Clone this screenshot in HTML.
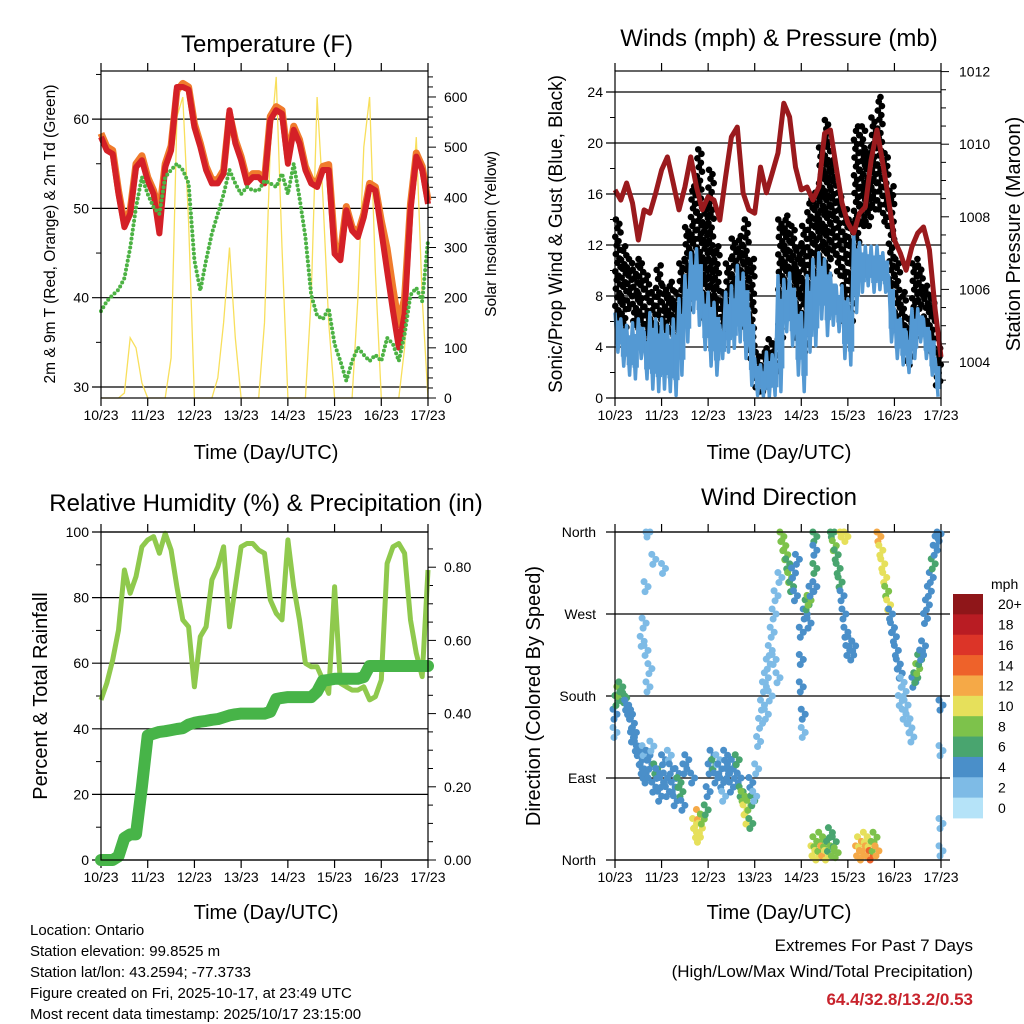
<!DOCTYPE html>
<html><head><meta charset="utf-8"><style>
html,body{margin:0;padding:0;background:#fff;}
svg{display:block;font-family:"Liberation Sans",Arial,sans-serif;}
</style></head><body>
<svg id="c" width="1024" height="1024" viewBox="0 0 1024 1024" xmlns="http://www.w3.org/2000/svg">
<rect width="1024" height="1024" fill="#fff"/>
<g id="layer"></g>
<g fill="#000">
<text x="267" y="52" font-size="24" text-anchor="middle">Temperature (F)</text>
<text x="779" y="46" font-size="24" text-anchor="middle">Winds (mph) &amp; Pressure (mb)</text>
<text x="266" y="511" font-size="24" text-anchor="middle">Relative Humidity (%) &amp; Precipitation (in)</text>
<text x="779" y="505" font-size="24" text-anchor="middle">Wind Direction</text>
<text x="266" y="459" font-size="20" text-anchor="middle">Time (Day/UTC)</text>
<text x="779" y="459" font-size="20" text-anchor="middle">Time (Day/UTC)</text>
<text x="266" y="919" font-size="20" text-anchor="middle">Time (Day/UTC)</text>
<text x="779" y="919" font-size="20" text-anchor="middle">Time (Day/UTC)</text>
<text transform="translate(55,234) rotate(-90)" font-size="15.5" text-anchor="middle">2m &amp; 9m T (Red, Orange) &amp; 2m Td (Green)</text>
<text transform="translate(496,234) rotate(-90)" font-size="15.5" text-anchor="middle">Solar Insolation (Yellow)</text>
<text transform="translate(562,234) rotate(-90)" font-size="19" text-anchor="middle">Sonic/Prop Wind &amp; Gust (Blue, Black)</text>
<text transform="translate(1020,234) rotate(-90)" font-size="20" text-anchor="middle">Station Pressure (Maroon)</text>
<text transform="translate(47,696) rotate(-90)" font-size="20" text-anchor="middle">Percent &amp; Total Rainfall</text>
<text transform="translate(540,696) rotate(-90)" font-size="20" text-anchor="middle">Direction (Colored By Speed)</text>
</g>
<g font-size="15" fill="#000">
<text x="30" y="935">Location: Ontario</text>
<text x="30" y="956">Station elevation: 99.8525 m</text>
<text x="30" y="977">Station lat/lon: 43.2594; -77.3733</text>
<text x="30" y="998">Figure created on Fri, 2025-10-17, at 23:49 UTC</text>
<text x="30" y="1019">Most recent data timestamp: 2025/10/17 23:15:00</text>
<text x="973" y="951" font-size="17" text-anchor="end">Extremes For Past 7 Days</text>
<text x="973" y="977" font-size="17" text-anchor="end">(High/Low/Max Wind/Total Precipitation)</text>
<text x="973" y="1005" font-size="17" font-weight="bold" fill="#c8232c" text-anchor="end">64.4/32.8/13.2/0.53</text>
</g>
</svg>
<script>
// ---- data (3-hourly, t = 0..168 h from 10/23 UTC) ----
const dayLabels = ["10/23","11/23","12/23","13/23","14/23","15/23","16/23","17/23"];
const temp2m = [58.0,56.5,56.1,51.6,47.9,49.4,54.6,55.4,53.1,51.6,47.2,54.6,56.5,63.6,63.6,63.3,59.1,56.9,54.3,52.8,52.8,53.9,61.0,57.3,55.4,52.8,53.5,53.5,52.8,59.9,61.0,60.6,55.0,58.8,57.3,54.3,52.8,52.4,54.3,54.3,44.9,44.2,49.8,47.5,46.8,49.0,52.4,52.0,47.5,43.0,38.5,34.4,38.2,49.8,55.8,54.3,50.5];
const temp9m = [58.4,56.9,56.5,52.0,48.3,49.8,55.0,55.9,53.5,52.0,49.5,55.0,57.0,63.2,64.0,63.6,59.5,57.3,54.7,53.2,53.2,54.3,60.6,57.7,55.8,53.2,53.9,53.9,53.2,60.3,61.4,61.0,55.6,59.2,57.7,54.7,53.2,52.8,54.7,54.9,46.0,45.0,50.2,47.9,47.2,49.4,52.8,52.4,48.6,45.5,41.0,37.0,40.0,50.5,56.2,54.7,50.9];
const dewpt = [38.5,39.6,40.3,40.9,42.2,45.6,50.1,53.5,51.6,50.1,49.4,53.5,54.3,55.0,54.3,52.8,44.2,40.8,44.2,47.2,49.4,51.6,54.3,52.8,51.6,52.4,52.0,52.0,53.1,52.8,52.4,53.9,51.6,55.0,51.2,46.8,40.3,38.0,37.6,38.8,34.8,32.9,30.7,32.9,34.4,33.6,32.9,33.6,32.9,35.5,34.8,32.9,35.9,40.3,41.1,39.6,46.4];
const solar = [0,0,0,0,10,120,100,30,0,0,0,0,80,560,600,350,0,0,0,0,40,150,300,120,0,0,0,0,150,500,640,300,0,0,0,0,200,600,400,150,0,0,0,0,200,500,600,250,0,0,0,0,100,350,520,200,0];
const pressure = [1008.74,1008.46,1008.93,1008.38,1007.36,1008.19,1008.1,1008.66,1009.29,1009.65,1008.93,1008.19,1008.82,1009.65,1008.82,1008.19,1008.55,1008.46,1007.91,1009.1,1010.2,1010.47,1008.66,1008.19,1008.1,1009.37,1008.66,1009.2,1009.76,1011.13,1010.75,1009.37,1008.74,1008.82,1008.46,1008.82,1010.3,1010.39,1009.37,1008.38,1007.83,1007.55,1008.1,1008.27,1009.56,1010.39,1009.48,1008.46,1007.36,1007.0,1006.53,1007.17,1007.55,1007.72,1007.09,1005.43,1004.14];
// wind per 3-hour bin (56 bins): sonic min/max, gust min/max (mph)
const windLo = [3.6,2.5,1.8,1.5,3.1,1.5,0.7,0.5,0.7,0.5,0.2,1.8,4.4,6.7,5.7,3.8,2.5,1.8,3.1,3.6,3.9,4.4,3.1,1.0,0.2,0.1,0.1,0.2,0.5,5.2,4.1,1.8,0.5,3.6,4.1,6.2,4.9,5.7,5.2,3.1,2.6,6.7,8.3,8.8,8.3,8.5,8.3,4.4,3.1,2.6,2.0,3.1,4.4,3.1,1.8,0.1];
const windHi = [6.7,6.2,5.7,5.9,6.2,5.2,6.7,6.2,6.2,5.7,6.2,7.8,9.6,11.4,11.7,8.3,8.3,7.5,5.7,8.3,8.8,10.4,9.8,7.0,3.1,2.6,3.6,3.4,9.6,9.3,9.8,7.8,6.7,9.6,10.9,11.4,10.9,9.8,8.8,8.8,7.8,13.0,12.2,11.9,11.9,11.9,11.4,9.6,7.0,6.2,5.2,7.0,7.0,6.2,5.2,3.1];
const gustLo = [6.2,5.2,7.0,5.7,4.4,4.4,4.1,4.4,4.9,5.2,4.9,5.7,7.0,10.4,8.3,6.2,5.7,4.9,4.4,4.9,6.2,7.0,5.2,3.1,0.5,0.5,1.8,2.1,4.4,8.3,7.8,4.4,3.6,7.0,8.3,9.8,9.6,10.9,9.6,5.7,5.7,9.8,13.5,13.5,14.8,14.8,13.5,8.3,5.7,4.4,2.6,4.4,7.0,5.7,3.6,1.0];
const gustHi = [14.0,11.9,10.9,10.4,10.9,9.6,8.3,10.4,8.8,9.1,8.3,10.9,13.4,16.6,19.5,15.5,17.9,11.9,8.3,10.9,12.5,12.7,14.0,10.9,3.6,3.6,4.6,4.6,14.0,14.3,13.5,11.9,13.5,15.6,16.1,20.0,21.8,18.7,16.1,14.8,14.0,21.3,21.3,19.7,22.0,23.6,19.2,16.6,10.9,8.3,6.2,10.9,10.4,8.8,7.8,3.9];
const rh = [48.8,53.9,61.0,70.1,88.4,81.3,86.4,95.5,97.6,98.6,93.5,99.6,94.5,83.3,73.2,71.1,52.8,68.1,71.1,85.4,89.4,95.5,71.1,83.3,95.5,96.5,96.5,94.5,93.5,79.3,75.2,73.2,97.6,83.3,73.2,60.0,58.9,58.9,54.9,50.8,83.3,53.9,52.8,51.8,51.8,52.8,48.8,49.8,54.9,90.4,95.5,96.5,93.5,73.2,63.0,55.9,88.4];
const precip = [0,0,0,0.01,0.06,0.07,0.07,0.2,0.34,0.345,0.35,0.352,0.355,0.358,0.36,0.37,0.375,0.378,0.38,0.383,0.385,0.39,0.395,0.398,0.40,0.40,0.40,0.40,0.40,0.405,0.44,0.443,0.445,0.445,0.445,0.445,0.445,0.46,0.49,0.492,0.495,0.495,0.495,0.495,0.495,0.50,0.53,0.53,0.53,0.53,0.53,0.53,0.53,0.53,0.53,0.53,0.53];
// wind direction observations: hour, degrees, speed (mph)
const dirHour = [0,0,1,2,3,4,5,6,7,8,9,9,10,11,12,13,14,15,15,14,15,16,17,18,16,20,17,25,16,17,18,19,20,21,22,23,24,25,26,27,28,29,30,31,32,33,34,35,36,37,41,42,43,44,45,43,40,47,48,49,50,51,52,53,54,55,56,57,58,59,60,61,62,63,64,65,66,67,68,69,70,70,71,72,73,74,75,76,77,78,79,80,81,82,83,84,85,78,80,82,86,87,88,89,90,91,92,93,94,96,96,96,97,97,98,99,100,101,100,103,103,103,103,102,103,104,105,106,107,108,109,110,111,112,113,114,112,113,114,115,116,117,118,119,117,119,120,121,122,123,125,126,127,128,129,130,131,132,133,134,135,136,137,138,139,140,141,142,143,144,145,146,147,148,149,150,151,152,153,149,147,154,155,156,157,158,159,160,161,162,163,164,165,166,167,168,168,168,168];
const dirDeg = [140,160,175,185,190,180,178,170,165,160,150,135,140,125,120,110,100,95,120,240,260,230,190,210,300,330,360,320,90,115,105,125,80,100,95,70,85,110,90,75,115,100,80,65,95,85,75,60,100,110,40,30,50,35,45,25,90,55,75,100,115,105,90,110,100,85,70,115,95,100,80,105,95,110,90,75,70,55,45,60,40,85,65,70,100,130,150,170,190,200,215,230,250,270,290,200,310,160,180,220,355,345,335,325,310,300,315,290,330,250,220,190,160,140,270,280,285,295,260,355,340,320,300,10,20,5,15,25,10,20,5,15,30,10,20,8,360,345,335,320,305,290,270,250,360,355,230,240,225,235,10,20,5,15,25,10,20,5,15,25,10,355,340,325,310,295,280,270,255,245,230,215,205,195,185,170,155,145,135,160,175,195,200,210,220,225,235,265,280,295,310,325,340,350,358,170,120,40,10];
const dirSpd = [2,3,5,7,6,6,5,4,4,3,4,3,4,3,4,4,3,4,2,1,1,1,2,1,1,1,1,1,4,3,4,2,4,5,4,3,4,3,4,4,2,3,4,3,4,6,6,4,4,3,9,10,11,10,8,9,3,5,4,4,4,6,3,2,4,3,2,3,4,4,4,3,4,6,3,5,7,9,10,8,6,4,6,2,2,2,1,2,1,2,2,1,2,1,1,2,1,1,2,2,7,8,7,6,8,6,4,4,3,3,4,3,3,2,4,6,7,4,4,6,4,6,4,9,8,10,7,8,11,7,9,6,5,8,6,7,6,7,6,6,5,4,3,4,10,9,3,4,4,3,12,10,11,12,10,11,9,13,8,7,12,11,10,10,9,8,10,4,4,4,4,3,3,2,2,2,1,2,1,2,2,3,6,7,6,4,4,3,4,4,4,5,4,4,3,3,1,1,1,1];
const spdTicks = ["0","2","4","6","8","10","12","14","16","18","20+"];
const spdColors = ["#b5e3f8","#7ebbe6","#4a8fc9","#49a56f","#7dc24b","#e6e05b","#f5a947","#ee622a","#dc3428","#b91c23","#8f1619"];

// ---- rendering ----
const NS="http://www.w3.org/2000/svg";
const root=document.getElementById('layer');
function mk(tag,attrs,parent){const e=document.createElementNS(NS,tag);for(const k in attrs)e.setAttribute(k,attrs[k]);(parent||root).appendChild(e);return e;}
function txt(x,y,s,size,anchor,parent){const e=mk('text',{x:x,y:y,'font-size':size,'text-anchor':anchor||'start',fill:'#000'},parent);e.textContent=s;return e;}
const hours = precip.map((_,i)=>i*3);

function panel(name,x0,x1,yT,yB){
  const g=mk('g',{});
  
  
  const xs=t=>x0+t/168*(x1-x0);
  for(let d=0;d<=7;d++){
    const x=xs(d*24);
    mk('line',{x1:x,y1:yT-8,x2:x,y2:yT,stroke:'#000','stroke-width':1.2},g);
    mk('line',{x1:x,y1:yB,x2:x,y2:yB+8,stroke:'#000','stroke-width':1.2},g);
    const t=txt(x,yB+22,dayLabels[d],14,'middle',g);
    
    
  }
  return {g,xs};
}
function frame(g,x0,x1,yT,yB){mk('rect',{x:x0,y:yT,width:x1-x0,height:yB-yT,fill:'none',stroke:'#000','stroke-width':1.2},g);}
function path(pts){return pts.map((p,i)=>(i?'L':'M')+p[0].toFixed(1)+','+p[1].toFixed(1)).join('');}

// Panel 1: temperature
(function(){
  const x0=101,x1=428,yT=71,yB=398;
  const {g,xs}=panel('temperature-panel',x0,x1,yT,yB);
  const yt=v=>387-(v-30)*8.93, ys=v=>398-v*0.5017;
  [30,40,50,60].forEach(v=>{mk('line',{x1:x0-9,y1:yt(v),x2:x1,y2:yt(v),stroke:'#000','stroke-width':1.2},g);const t=txt(x0-12,yt(v)+5,String(v),14,'end',g);});
  [35,45,55,65].forEach(v=>mk('line',{x1:x0-5,y1:yt(v),x2:x0,y2:yt(v),stroke:'#000'},g));
  for(let v=0;v<=640;v+=20){const big=v%100===0;mk('line',{x1:x1,y1:ys(v),x2:x1+(big?8:5),y2:ys(v),stroke:'#000'},g);if(big){const t=txt(x1+16,ys(v)+5,String(v),14,'start',g);}}
  const sol=mk('path',{d:path(solar.map((v,i)=>[xs(hours[i]),ys(v)])),fill:'none',stroke:'#f8df5c','stroke-width':1.3},g);
  
  const o=mk('path',{d:path(temp9m.map((v,i)=>[xs(hours[i]),yt(v)])),fill:'none',stroke:'#f07b2c','stroke-width':7,'stroke-linejoin':'round'},g);
  
  const r=mk('path',{d:path(temp2m.map((v,i)=>[xs(hours[i]),yt(v)])),fill:'none',stroke:'#d42027','stroke-width':6,'stroke-linejoin':'round'},g);
  
  const d=mk('path',{d:path(dewpt.map((v,i)=>[xs(hours[i]),yt(v)])),fill:'none',stroke:'#4cb244','stroke-width':4,'stroke-dasharray':'0 4.5','stroke-linecap':'round'},g);
  
  frame(g,x0,x1,yT,yB);
})();

// Panel 2: winds & pressure
(function(){
  const x0=615,x1=941,yT=71,yB=398;
  const {g,xs}=panel('winds-panel',x0,x1,yT,yB);
  const yw=v=>398-v*12.75, yp=p=>362-(p-1004)*36.3;
  for(let v=0;v<=24;v+=4){mk('line',{x1:x0-9,y1:yw(v),x2:x1,y2:yw(v),stroke:'#000','stroke-width':1.2},g);const t=txt(x0-12,yw(v)+5,String(v),14,'end',g);}
  for(let v=2;v<=24;v+=4)mk('line',{x1:x0-5,y1:yw(v),x2:x0,y2:yw(v),stroke:'#000'},g);
  for(let p=1003.5;p<=1012.5;p+=0.5){const y=yp(p);if(y<yT||y>yB)continue;const big=p%2===0;mk('line',{x1:x1,y1:y,x2:x1+(big?8:5),y2:y,stroke:'#000'},g);if(big){const t=txt(x1+18,y+5,String(p),14,'start',g);}}
  const bw=(x1-x0)/56;
  const offs=[0.15,0.75,0.4,0.95,0.05,0.6,0.3,0.85];
  windLo.forEach((lo,i)=>{
    const xa=xs(i*3), ga=yw(gustHi[i]), gb=yw(gustLo[i]);
    const n=Math.max(1,Math.ceil((gb-ga)/4.5));
    for(let k=0;k<=n;k++){
      const c=mk('circle',{cx:xa+bw*offs[(k+i)%8],cy:ga+(gb-ga)*k/n,r:3.3,fill:'#000'},g);
      
    }
  });
  const band=[];
  windLo.forEach((lo,i)=>{band.push([xs(i*3),yw(windHi[i])]);band.push([xs(i*3)+bw*0.5,yw(lo)]);});
  const bl=mk('path',{d:path(band),fill:'none',stroke:'#5499d3','stroke-width':3.5,'stroke-linejoin':'round'},g);
  
  windLo.forEach((lo,i)=>{
    const b=mk('rect',{x:xs(i*3),y:yw(windHi[i])+(yw(lo)-yw(windHi[i]))*0.2,width:bw+0.6,height:(yw(lo)-yw(windHi[i]))*0.6,fill:'#5499d3'},g);
    
  });
  const p=mk('path',{d:path(pressure.map((v,i)=>[xs(hours[i]),yp(v)])),fill:'none',stroke:'#9a1a1d','stroke-width':5,'stroke-linejoin':'round'},g);
  
  frame(g,x0,x1,yT,yB);
})();

// Panel 3: RH & precip
(function(){
  const x0=101,x1=428,yT=532,yB=860;
  const {g,xs}=panel('humidity-panel',x0,x1,yT,yB);
  const yr=v=>860-v*3.28, yq=v=>860-v*366;
  for(let v=0;v<=100;v+=20){mk('line',{x1:x0-9,y1:yr(v),x2:x1,y2:yr(v),stroke:'#000','stroke-width':1.2},g);const t=txt(x0-12,yr(v)+5,String(v),14,'end',g);}
  for(let v=10;v<=90;v+=20)mk('line',{x1:x0-5,y1:yr(v),x2:x0,y2:yr(v),stroke:'#000'},g);
  for(let k=0;k<=17;k++){const v=k*0.05,y=yq(v);const big=k%4===0;mk('line',{x1:x1,y1:y,x2:x1+(big?8:5),y2:y,stroke:'#000'},g);if(big){const t=txt(x1+16,y+5,v.toFixed(2),14,'start',g);}}
  const r=mk('path',{d:path(rh.map((v,i)=>[xs(hours[i]),yr(v)])),fill:'none',stroke:'#8fc94d','stroke-width':5,'stroke-linejoin':'round'},g);
  
  const q=mk('path',{d:path(precip.map((v,i)=>[xs(hours[i]),yq(v)])),fill:'none',stroke:'#47b448','stroke-width':12,'stroke-linejoin':'round','stroke-linecap':'round'},g);
  
  frame(g,x0,x1,yT,yB);
})();

// Panel 4: wind direction
(function(){
  const x0=615,x1=941,yT=532,yB=860;
  const {g,xs}=panel('wind-direction-panel',x0,x1,yT,yB);
  const yd=d=>860-d*328/360;
  const names=["North","East","South","West","North"];
  names.forEach((nm,i)=>{const y=yd(i*90);mk('line',{x1:x0-9,y1:y,x2:x1+9,y2:y,stroke:'#000','stroke-width':1.2},g);const t=txt(x0-19,y+5,nm,14,'end',g);});
  const ci=s=>Math.min(10,Math.max(0,Math.round(s/2)));
  const jit=[[-2,-5],[2,0],[-1,5]];
  dirHour.forEach((h,i)=>{
    jit.forEach(j=>{
      const cy=Math.min(yB,Math.max(yT,yd(dirDeg[i])+j[1]));
      const c=mk('circle',{cx:xs(h)+j[0],cy:cy,r:3.5,fill:spdColors[ci(dirSpd[i])]},g);
      
    });
  });
  frame(g,x0,x1,yT,yB);
  const cb=mk('g',{});
  
  const top=594,h=224/11;
  txt(991,589,'mph',14,'start',cb);
  spdColors.slice().reverse().forEach((col,k)=>{
    const r=mk('rect',{x:953,y:top+k*h,width:30,height:h+0.4,fill:col},cb);
    
    const t=txt(998,top+k*h+h/2+5,spdTicks[10-k],14,'start',cb);
    
  });
})();
</script>
</body></html>
